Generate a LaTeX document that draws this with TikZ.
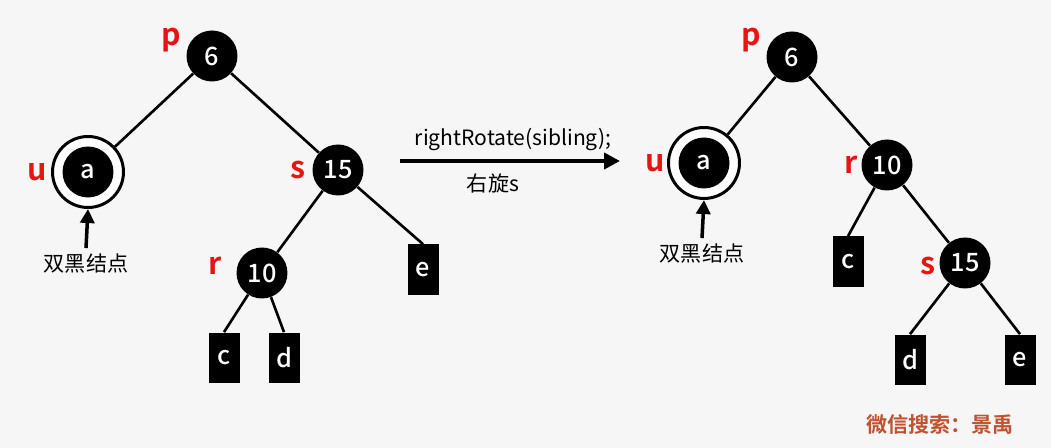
\documentclass[tikz,border=0pt]{standalone}
\usepackage{fontspec}
\setmainfont{Noto Sans CJK SC}[BoldFont={Noto Sans CJK SC Medium}]
\newfontfamily\heavyfont{Noto Sans CJK SC Bold}
\usetikzlibrary{arrows.meta}
\definecolor{bgcol}{RGB}{246,246,246}
\definecolor{markred}{RGB}{232,20,20}
\definecolor{wmcol}{RGB}{192,82,48}

\begin{document}
\begin{tikzpicture}[
  x=0.02cm, y=-0.02cm,
  >=Latex,
  every node/.style={font=\large},
  tree node/.style={circle,fill=black,minimum size=1.02cm,inner sep=0pt,text=white,font=\Large\bfseries},
  ring node/.style={circle,draw=black,line width=1.7pt,fill=white,minimum size=1.42cm,inner sep=0pt},
  leaf node/.style={rectangle,fill=black,minimum width=0.62cm,minimum height=1.02cm,inner sep=0pt,text=white,font=\Large\bfseries},
  tag/.style={text=markred,font=\LARGE\heavyfont},
  tree edge/.style={line width=1.5pt,draw=black},
  note arrow/.style={->,line width=2pt,>={Triangle[length=8pt,width=8pt]}},
]
\fill[bgcol] (0,0) rectangle (1051,448);
\useasboundingbox (0,0) rectangle (1051,448);

% before rotation
\node[tree node] (p1) at (212,56) {6};
\node[ring node] (u1) at (88,172) {};
\node[tree node] (a1) at (88,172) {a};
\node[tree node] (s1) at (338,170) {15};
\node[tree node] (r1) at (262,273) {10};
\node[leaf node] (e1) at (423,270) {e};
\node[leaf node] (c1) at (224,358) {c};
\node[leaf node] (d1) at (284,358) {d};
\draw[tree edge] (p1) -- (u1);
\draw[tree edge] (p1) -- (s1);
\draw[tree edge] (s1) -- (r1);
\draw[tree edge] (s1) -- (e1.north);
\draw[tree edge] (r1) -- (c1.north);
\draw[tree edge] (r1) -- (d1.north);
\node[tag] (p1tag) at (171,40) {p};
\node[tag] (u1tag) at (37,172) {u};
\node[tag] (s1tag) at (298,170) {s};
\node[tag] (r1tag) at (215,266) {r};
\node (db1) at (86,264) {双黑结点};
\draw[note arrow] (db1.north) -- (u1.south);

% rotation arrow
\coordinate (rotA) at (400,161);
\coordinate (rotB) at (620,161);
\draw[->,line width=2.2pt,>={Triangle[length=9pt,width=9pt]}] (rotA) -- (rotB);
\node (rotcode) at (513,140) {rightRotate(sibling);};
\node (rotname) at (493,183) {右旋s};

% after rotation
\node[tree node] (p2) at (792,57) {6};
\node[ring node] (u2) at (704,163) {};
\node[tree node] (a2) at (704,163) {a};
\node[tree node] (r2) at (887,165) {10};
\node[leaf node] (c2) at (848,262) {c};
\node[tree node] (s2) at (965,263) {15};
\node[leaf node] (d2) at (910,360) {d};
\node[leaf node] (e2) at (1020,360) {e};
\draw[tree edge] (p2) -- (u2);
\draw[tree edge] (p2) -- (r2);
\draw[tree edge] (r2) -- (c2.north);
\draw[tree edge] (r2) -- (s2);
\draw[tree edge] (s2) -- (d2.north);
\draw[tree edge] (s2) -- (e2.north);
\node[tag] (p2tag) at (751,40) {p};
\node[tag] (u2tag) at (655,163) {u};
\node[tag] (r2tag) at (851,165) {r};
\node[tag] (s2tag) at (928,266) {s};
\node (db2) at (702,254) {双黑结点};
\draw[note arrow] (db2.north) -- (u2.south);

\node[text=wmcol,font=\large\heavyfont] (mark) at (940,425) {微信搜索：景禹};
\end{tikzpicture}
\end{document}
